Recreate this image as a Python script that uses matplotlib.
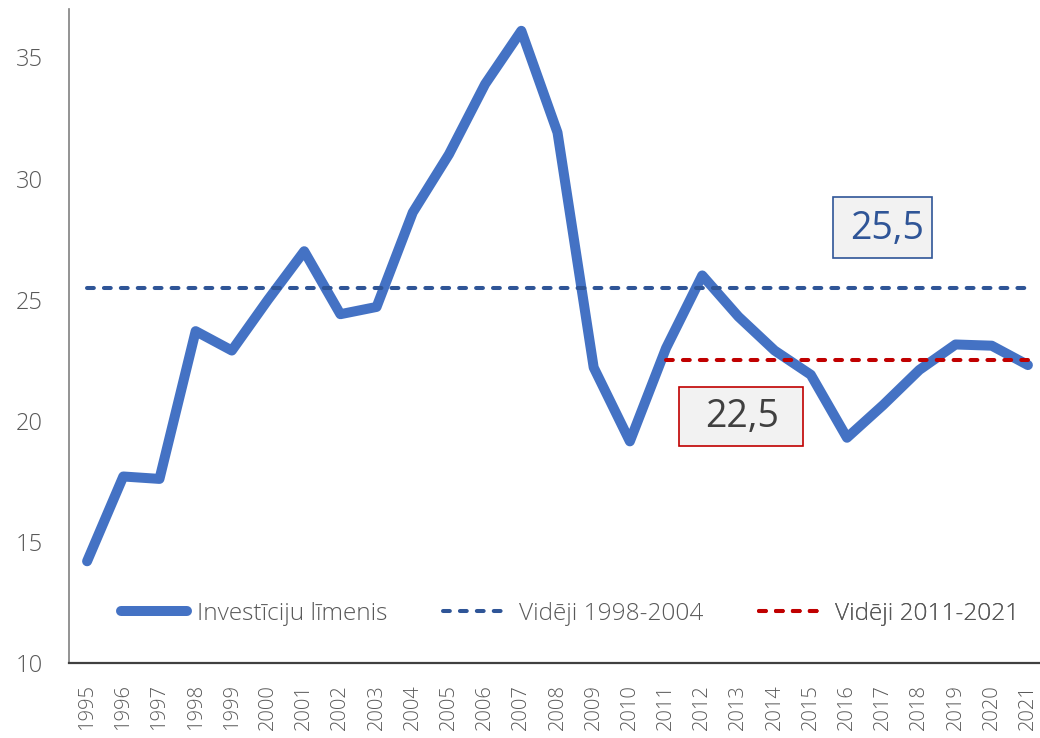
import matplotlib
matplotlib.use("Agg")
import matplotlib.pyplot as plt
from matplotlib.lines import Line2D
from matplotlib.patches import Rectangle

# ---- data ----
years = [str(y) for y in range(1995, 2022)]
investment = [14.2, 17.7, 17.6, 23.7, 22.9, 25.0, 27.0, 24.4, 24.7, 28.6,
              31.0, 33.9, 36.1, 31.9, 22.2, 19.15, 23.0, 26.0, 24.3, 22.9,
              21.9, 19.3, 20.65, 22.1, 23.15, 23.1, 22.3]
avg_1998_2004 = 25.5
avg_2011_2021 = 22.5
avg1_span = ("1995", "2021")
avg2_span = ("2011", "2021")
y_ticks = [10, 15, 20, 25, 30, 35]
series_labels = ["Investīciju līmenis", "Vidēji 1998-2004", "Vidēji 2011-2021"]

FONT = "Open Sans"
plt.rcParams["font.family"] = [FONT, "DejaVu Sans"]
plt.rcParams["font.weight"] = "light"

W, H = 1040, 738
fig = plt.figure(figsize=(W / 100, H / 100), dpi=100)
ax = fig.add_axes([69 / W, (H - 663) / H, (1046 - 69) / W, (663 - 9) / H])

x = list(range(len(years)))
blue = "#4472C4"
dblue = "#2F5597"
red = "#C00000"

ax.plot(x, investment, color=blue, lw=7.2, solid_joinstyle="round",
        solid_capstyle="round", zorder=3)

def span_x(span):
    return [years.index(span[0]), years.index(span[1])]

dash = dict(lw=2.9, dashes=(1.7, 2.5), dash_capstyle="round")
ax.plot(span_x(avg1_span), [avg_1998_2004] * 2, color=dblue, zorder=4, **dash)
ax.plot(span_x(avg2_span), [avg_2011_2021] * 2, color=red, zorder=4, **dash)

ax.set_xlim(-0.5, len(years) - 0.5)
ax.set_ylim(10, 37)
ax.set_yticks(y_ticks)
ax.set_yticklabels([str(t) for t in y_ticks])
ax.set_xticks(x)
ax.set_xticklabels(years, rotation=90)
ax.tick_params(axis="y", length=0, pad=19, labelsize=17, labelcolor="#595959")
ax.tick_params(axis="x", length=0, pad=15, labelsize=14.5, labelcolor="#595959")
for lab in ax.get_xticklabels():
    lab.set_verticalalignment("top")

for s in ["top", "right"]:
    ax.spines[s].set_visible(False)
ax.spines["left"].set_color("#808080")
ax.spines["left"].set_linewidth(1.2)
ax.spines["bottom"].set_color("#404040")
ax.spines["bottom"].set_linewidth(1.6)

# legend: three entries, each anchored separately
handles = [
    Line2D([], [], color=blue, lw=7.2, solid_capstyle="round"),
    Line2D([], [], color=dblue, **dash),
    Line2D([], [], color=red, **dash),
]
anchors_px = [121, 443, 759]
for h, lab, apx in zip(handles, series_labels, anchors_px):
    lg = ax.legend([h], [lab], frameon=False, loc="center left",
                   bbox_to_anchor=((apx - 69) / 977, (663 - 614) / 654),
                   prop={"size": 17.6, "weight": "light"},
                   handlelength=2.7, handletextpad=0.4,
                   borderpad=0, borderaxespad=0)
    for t in lg.get_texts():
        t.set_color("#595959")
    ax.add_artist(lg)

# annotation boxes
def fmt(v):
    return f"{v:.1f}".replace(".", ",")

def box(x0, y0, x1, y1, edge, text, tcolor, tx):
    fig.patches.append(Rectangle((x0 / W, 1 - y1 / H), (x1 - x0) / W, (y1 - y0) / H,
                                 transform=fig.transFigure, facecolor="#F2F2F2",
                                 edgecolor=edge, lw=1.2, zorder=5))
    fig.text(tx / W, 1 - ((y0 + y1) / 2 + 1) / H, text, color=tcolor, fontsize=27,
             fontweight="normal", ha="center", va="center", zorder=6)

box(833, 197, 932, 258, dblue, fmt(avg_1998_2004), dblue, 887)
box(679, 387, 803, 446, red, fmt(avg_2011_2021), "#404040", 742)

fig.savefig("out.png", dpi=100)
